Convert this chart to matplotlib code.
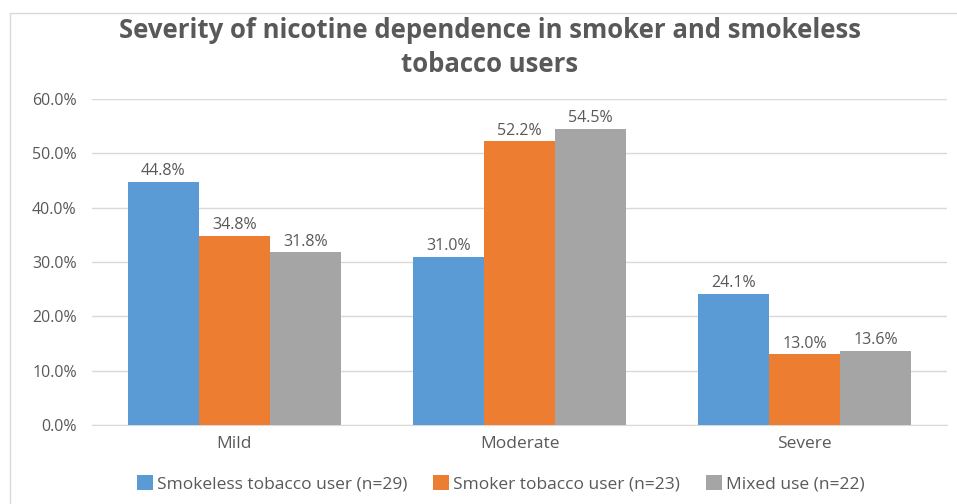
import matplotlib.pyplot as plt
import numpy as np
from matplotlib.patches import Rectangle

# dependence severity by user group (percent)
categories = ["Mild", "Moderate", "Severe"]
series_names = ["Smokeless tobacco user (n=29)", "Smoker tobacco user (n=23)", "Mixed use (n=22)"]
smokeless = [44.8, 31.0, 24.1]
smoker = [34.8, 52.2, 13.0]
mixed = [31.8, 54.5, 13.6]
colors = ["#5B9BD5", "#ED7D31", "#A5A5A5"]

plt.rcParams['font.family'] = ['Open Sans', 'DejaVu Sans']
text_col = "#595959"

fig = plt.figure(figsize=(9.57, 5.04), dpi=100)
ax = fig.add_axes([0.0961, 0.1567, 0.8935, 0.6469])

# faint chart border
fig.patches.append(Rectangle((10 / 957, -0.01), 1.0, 1 - 13 / 504 + 0.01,
                             transform=fig.transFigure, fill=False,
                             edgecolor="#D9D9D9", linewidth=1))

x = np.arange(len(categories))
w = 0.25
for i, vals in enumerate([smokeless, smoker, mixed]):
    bars = ax.bar(x + (i - 1) * w, vals, w, color=colors[i], label=series_names[i], zorder=3)
    for b, v in zip(bars, vals):
        ax.text(b.get_x() + b.get_width() / 2, v + 0.5, f"{v:.1f}%", ha='center', va='bottom',
                fontsize=11.5, color=text_col)

ax.set_xlim(-0.5, 2.5)
ax.set_ylim(0, 60)
ax.set_yticks(np.arange(0, 61, 10))
ax.set_yticklabels([f"{t:.1f}%" for t in np.arange(0, 61, 10)])
ax.set_xticks(x)
ax.set_xticklabels(categories)
ax.tick_params(axis='both', length=0, labelsize=11.5, labelcolor=text_col)
ax.tick_params(axis='x', labelsize=12.5, pad=8)
ax.tick_params(axis='y', pad=11)
ax.grid(axis='y', color="#D9D9D9", linewidth=1, zorder=0)
for s in ['top', 'right', 'left']:
    ax.spines[s].set_visible(False)
ax.spines['bottom'].set_color("#D9D9D9")

title_kw = dict(ha='center', va='center', fontsize=18.5, fontweight='bold', color=text_col)
fig.text(490 / 957, 1 - 31 / 504, "Severity of nicotine dependence in smoker and smokeless", **title_kw)
fig.text(490 / 957, 1 - 64 / 504, "tobacco users", **title_kw)

leg = fig.legend(loc='center', bbox_to_anchor=(501 / 957, 1 - 484 / 504), ncol=3, frameon=False,
                 fontsize=12.5, handlelength=0.9, handleheight=0.9, handletextpad=0.25,
                 columnspacing=1.5)
for t in leg.get_texts():
    t.set_color(text_col)

fig.savefig("out.png", dpi=100)
